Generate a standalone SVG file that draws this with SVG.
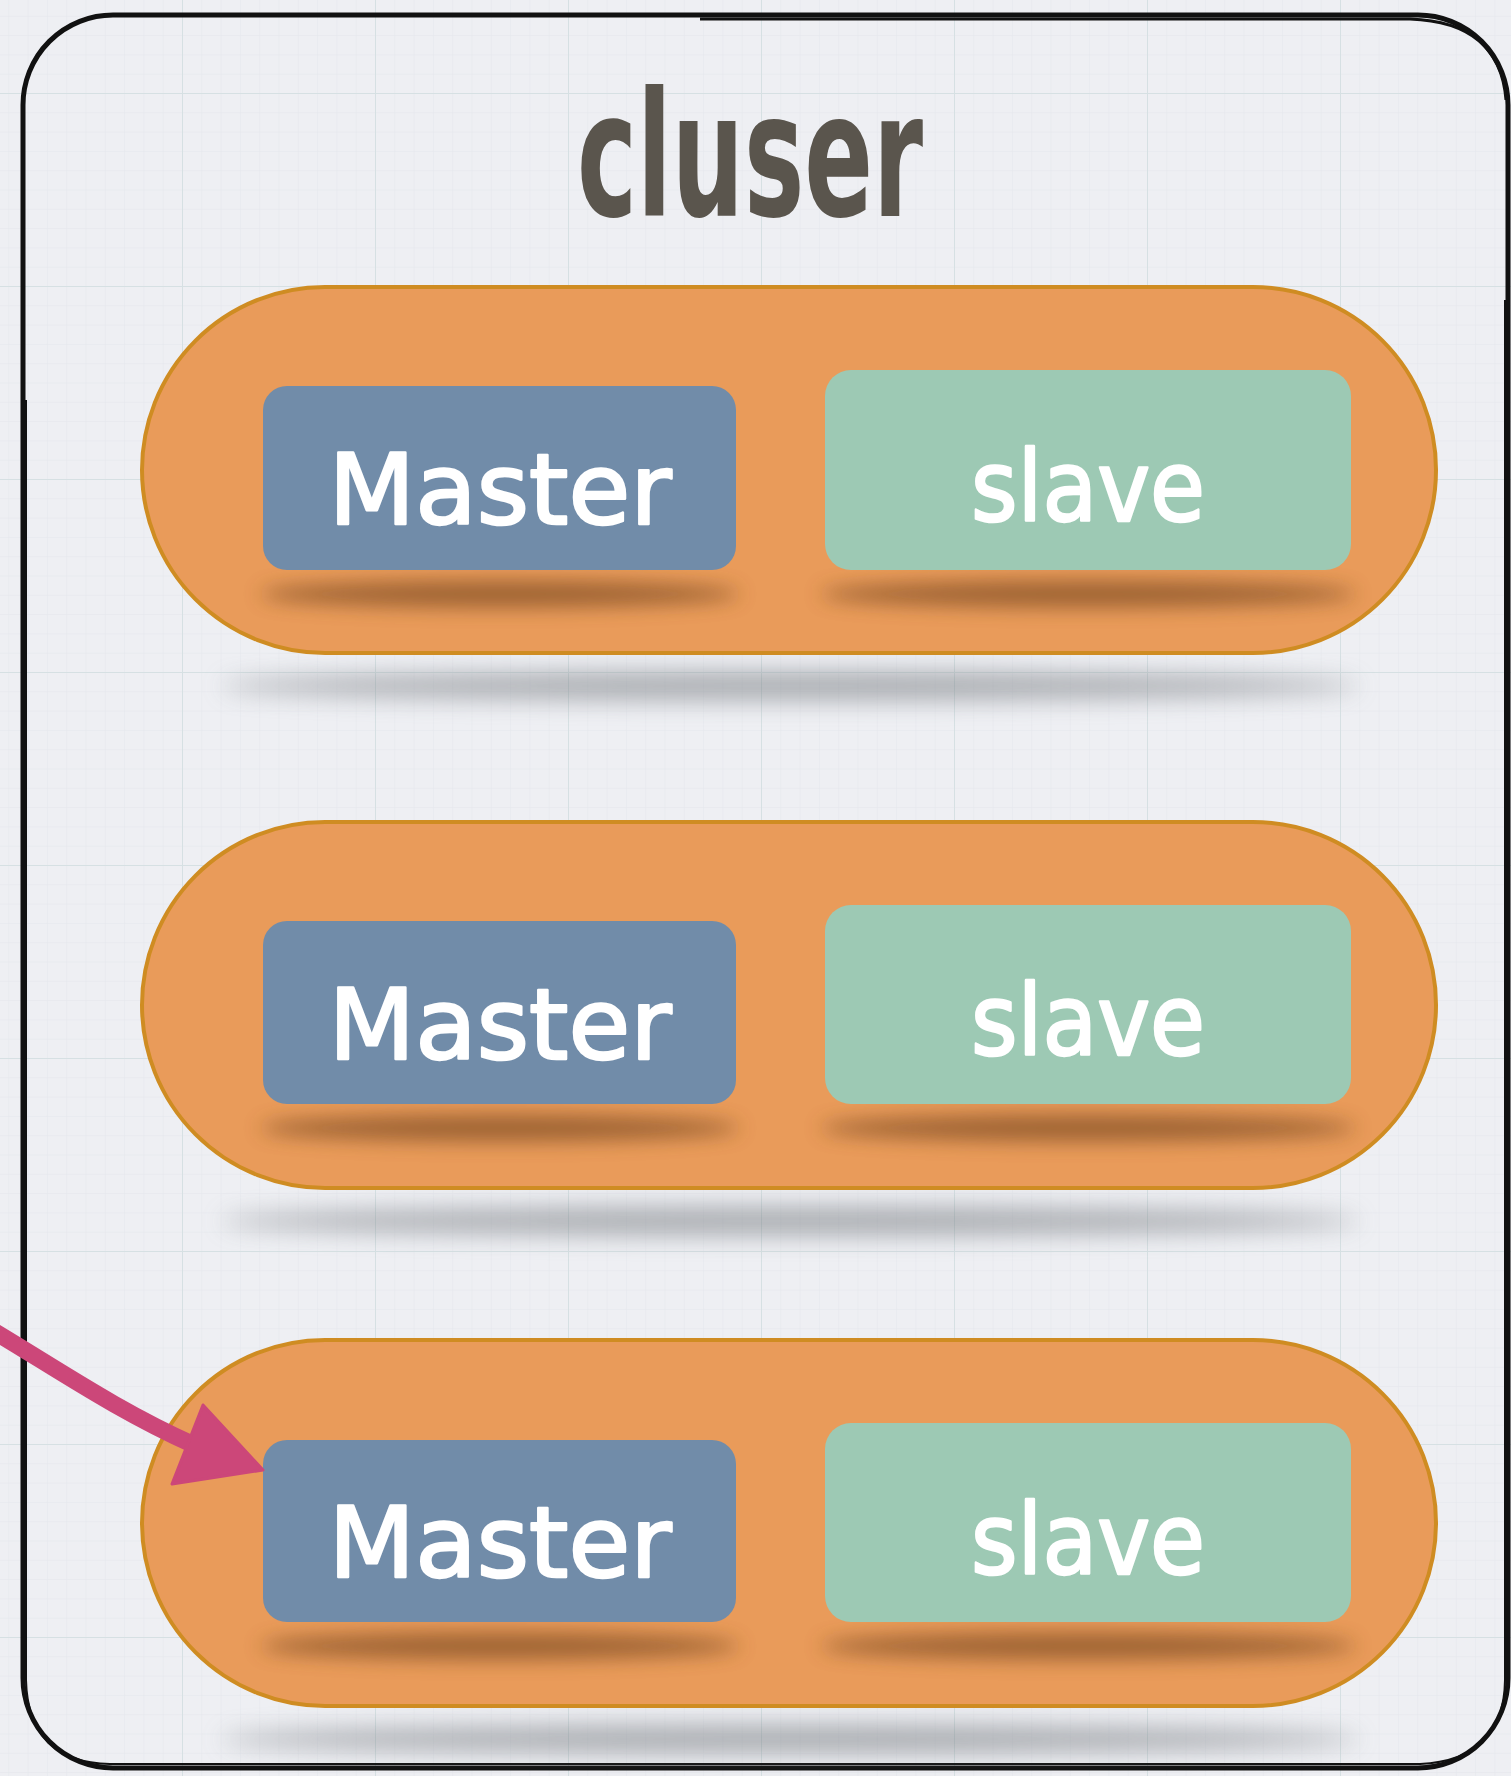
<svg xmlns="http://www.w3.org/2000/svg" width="1511" height="1776" viewBox="0 0 1511 1776">
<style>
.pill{fill:#E99B5A;stroke:#CF8C22;stroke-width:4}
.master{fill:#718CA9}
.slave{fill:#9DC9B4}
.lbl{font-family:"DejaVu Sans","Noto Sans",sans-serif;font-size:98px;fill:#ffffff;stroke:#ffffff;stroke-width:2.5;stroke-linejoin:round;text-anchor:middle}
.title{font-family:"Liberation Sans Narrow","DejaVu Sans Condensed",sans-serif;font-weight:bold;font-size:173px;fill:#5A554D}
.frame{fill:none;stroke:#111;stroke-linejoin:round}
</style>
<defs>
<pattern id="minor" width="19.3" height="19.3" patternUnits="userSpaceOnUse" x="-11" y="93">
<path d="M0 0H19.3M0 0V19.3" stroke="#E3E6EB" stroke-width="1" fill="none"/>
</pattern>
<pattern id="major" width="193" height="193" patternUnits="userSpaceOnUse" x="-11" y="93">
<path d="M0 0H193M0 0V193" stroke="#D6E0E3" stroke-width="2" fill="none"/>
</pattern>
<filter id="blurS" x="-20%" y="-200%" width="140%" height="500%"><feGaussianBlur stdDeviation="10"/></filter>
<filter id="blurP" x="-20%" y="-200%" width="140%" height="500%"><feGaussianBlur stdDeviation="12"/></filter>
<clipPath id="c1"><rect x="142" y="287" width="1294" height="366" rx="183"/></clipPath>
<clipPath id="c2"><rect x="142" y="822" width="1294" height="366" rx="183"/></clipPath>
<clipPath id="c3"><rect x="142" y="1340" width="1294" height="366" rx="183"/></clipPath>
</defs>
<rect width="1511" height="1776" fill="#EEEFF3"/>
<rect width="1511" height="1776" fill="url(#minor)"/>
<rect width="1511" height="1776" fill="url(#major)"/>

<g id="frame">
<rect class="frame" x="23" y="15" width="1485" height="1753" rx="90" stroke-width="5"/>
<path class="frame" d="M26 400 V1680 Q28 1762 110 1764 H1420 Q1504 1760 1505 1680 V300" stroke-width="2"/>
<path class="frame" d="M700 19 H1410 Q1500 22 1506 100" stroke-width="3"/>
</g>

<g id="title">
<text class="title" x="577" y="216" textLength="346" lengthAdjust="spacingAndGlyphs">cluser</text>
</g>

<g id="group1">
<ellipse cx="790" cy="686" rx="570" ry="14" fill="#6E7378" opacity="0.55" filter="url(#blurP)"/>
<rect class="pill" x="142" y="287" width="1294" height="366" rx="183"/>
<g clip-path="url(#c1)">
<ellipse cx="500" cy="594" rx="240" ry="13" fill="#7A4A22" opacity="0.7" filter="url(#blurS)"/>
<ellipse cx="1088" cy="594" rx="268" ry="13" fill="#7A4A22" opacity="0.7" filter="url(#blurS)"/>
</g>
<g id="master1"><rect class="master" x="263" y="386" width="473" height="184" rx="24"/><text class="lbl" x="500" y="524" textLength="343" lengthAdjust="spacingAndGlyphs">Master</text></g>
<g id="slave1"><rect class="slave" x="825" y="370" width="526" height="200" rx="26"/><text class="lbl" x="1088" y="521" textLength="234" lengthAdjust="spacingAndGlyphs">slave</text></g>
</g>

<g id="group2">
<ellipse cx="790" cy="1221" rx="570" ry="14" fill="#6E7378" opacity="0.55" filter="url(#blurP)"/>
<rect class="pill" x="142" y="822" width="1294" height="366" rx="183"/>
<g clip-path="url(#c2)">
<ellipse cx="500" cy="1128" rx="240" ry="13" fill="#7A4A22" opacity="0.7" filter="url(#blurS)"/>
<ellipse cx="1088" cy="1128" rx="268" ry="13" fill="#7A4A22" opacity="0.7" filter="url(#blurS)"/>
</g>
<g id="master2"><rect class="master" x="263" y="921" width="473" height="183" rx="24"/><text class="lbl" x="500" y="1059" textLength="343" lengthAdjust="spacingAndGlyphs">Master</text></g>
<g id="slave2"><rect class="slave" x="825" y="905" width="526" height="199" rx="26"/><text class="lbl" x="1088" y="1055" textLength="234" lengthAdjust="spacingAndGlyphs">slave</text></g>
</g>

<g id="group3">
<ellipse cx="790" cy="1739" rx="570" ry="14" fill="#6E7378" opacity="0.55" filter="url(#blurP)"/>
<rect class="pill" x="142" y="1340" width="1294" height="366" rx="183"/>
<g clip-path="url(#c3)">
<ellipse cx="500" cy="1646" rx="240" ry="13" fill="#7A4A22" opacity="0.7" filter="url(#blurS)"/>
<ellipse cx="1088" cy="1646" rx="268" ry="13" fill="#7A4A22" opacity="0.7" filter="url(#blurS)"/>
</g>
<g id="master3"><rect class="master" x="263" y="1440" width="473" height="182" rx="24"/><text class="lbl" x="500" y="1577" textLength="343" lengthAdjust="spacingAndGlyphs">Master</text></g>
<g id="slave3"><rect class="slave" x="825" y="1423" width="526" height="199" rx="26"/><text class="lbl" x="1088" y="1574" textLength="234" lengthAdjust="spacingAndGlyphs">slave</text></g>
</g>

<g id="connectors">
<path d="M-5 1332 C60 1371 120 1412 194 1445" fill="none" stroke="#CC4779" stroke-width="17"/>
<polygon points="203,1405 263,1470 172,1484" fill="#CC4779" stroke="#CC4779" stroke-width="3" stroke-linejoin="round"/>
</g>
</svg>
